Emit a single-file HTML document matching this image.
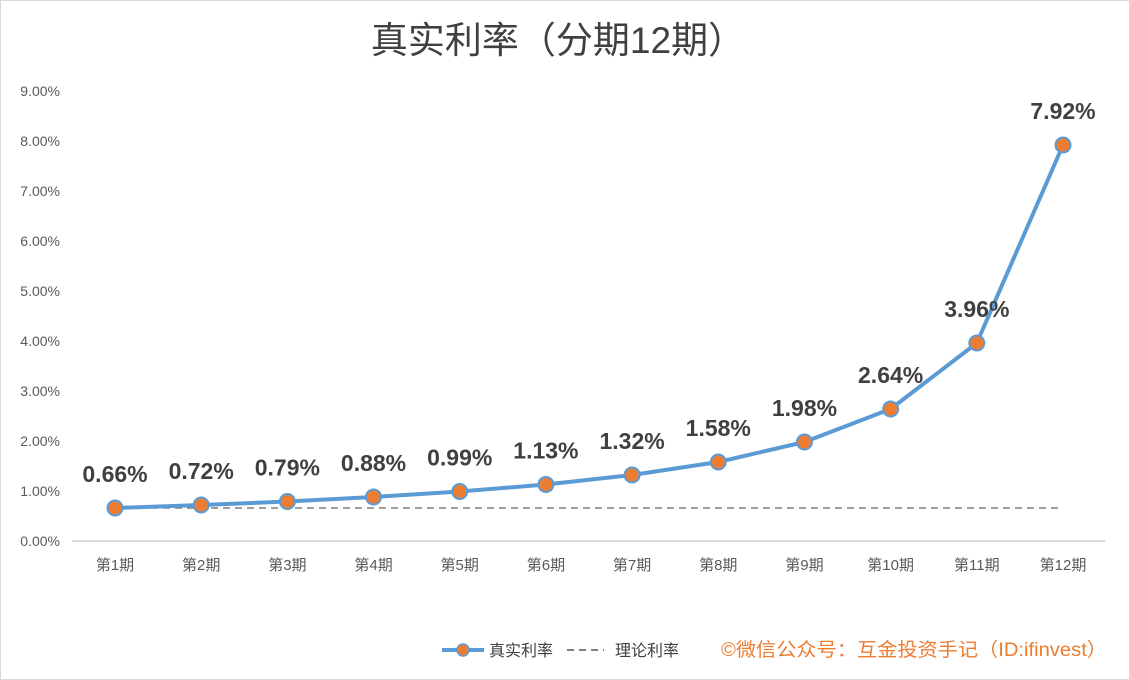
<!DOCTYPE html>
<html><head><meta charset="utf-8"><style>
html,body{margin:0;padding:0;background:#fff}
svg{display:block;font-family:"Liberation Sans","Noto Sans CJK SC",sans-serif}
</style></head><body>
<svg id="c" width="1130" height="680">
<rect x="0.5" y="0.5" width="1129" height="679" fill="#fff" stroke="#d9d9d9"/>
<text x="558" y="53" text-anchor="middle" font-size="37" fill="#404040">真实利率（分期12期）</text>
<g id="yaxis"></g>
<g id="xaxis"></g>
<g id="series"></g>
<g>
<line x1="442" y1="650" x2="484" y2="650" stroke="#5b9bd5" stroke-width="4"/>
<circle cx="463" cy="650" r="6" fill="#ed7d31" stroke="#5b9bd5" stroke-width="1.5"/>
<text x="489" y="656" font-size="16" fill="#404040">真实利率</text>
<line x1="567" y1="650" x2="604" y2="650" stroke="#7f7f7f" stroke-width="2" stroke-dasharray="7,5"/>
<text x="615" y="656" font-size="16" fill="#404040">理论利率</text>
<text x="721" y="656" font-size="19" fill="#ed7d31" textLength="386" lengthAdjust="spacingAndGlyphs">©微信公众号：互金投资手记（ID:ifinvest）</text>
</g>
</svg>
<script>
const categories=["第1期","第2期","第3期","第4期","第5期","第6期","第7期","第8期","第9期","第10期","第11期","第12期"];
const realRate=[0.66,0.72,0.79,0.88,0.99,1.13,1.32,1.58,1.98,2.64,3.96,7.92];
const theoryRate=[0.66,0.66,0.66,0.66,0.66,0.66,0.66,0.66,0.66,0.66,0.66,0.66];
const yTicks=[0,1,2,3,4,5,6,7,8,9];
const NS="http://www.w3.org/2000/svg";
const x0=115,x1=1063,yBase=541,yTop=91,yMax=9;
function xs(i){return x0+i*(x1-x0)/(categories.length-1);}
function ys(v){return yBase-(v/yMax)*(yBase-yTop);}
function mk(tag,attrs,parent){const e=document.createElementNS(NS,tag);for(const k in attrs)e.setAttribute(k,attrs[k]);parent.appendChild(e);return e;}
const ya=document.getElementById('yaxis'),xa=document.getElementById('xaxis'),sg=document.getElementById('series');
yTicks.forEach(t=>{const e=mk('text',{x:60,y:ys(t)+5,'text-anchor':'end','font-size':14,fill:'#595959'},ya);e.textContent=t.toFixed(2)+'%';

});
const ax=mk('line',{x1:72,y1:yBase,x2:1105,y2:yBase,stroke:'#d9d9d9','stroke-width':2},xa);


categories.forEach((c,i)=>{const e=mk('text',{x:xs(i),y:570,'text-anchor':'middle','font-size':15,fill:'#595959'},xa);e.textContent=c;

});
const tl=mk('polyline',{points:theoryRate.map((v,i)=>xs(i)+','+ys(v)).join(' '),fill:'none',stroke:'#7f7f7f','stroke-width':1.5,'stroke-dasharray':'7,5'},sg);


const rl=mk('polyline',{points:realRate.map((v,i)=>xs(i)+','+ys(v)).join(' '),fill:'none',stroke:'#5b9bd5','stroke-width':4,'stroke-linejoin':'round'},sg);


realRate.forEach((v,i)=>{const p=mk('circle',{cx:xs(i),cy:ys(v),r:7.5,fill:'#ed7d31',stroke:'#5b9bd5','stroke-width':2},sg);


const l=mk('text',{x:xs(i),y:ys(v)-26,'text-anchor':'middle','font-size':23,'font-weight':'bold',fill:'#404040'},sg);l.textContent=v.toFixed(2)+'%';

});
</script>
</body></html>
